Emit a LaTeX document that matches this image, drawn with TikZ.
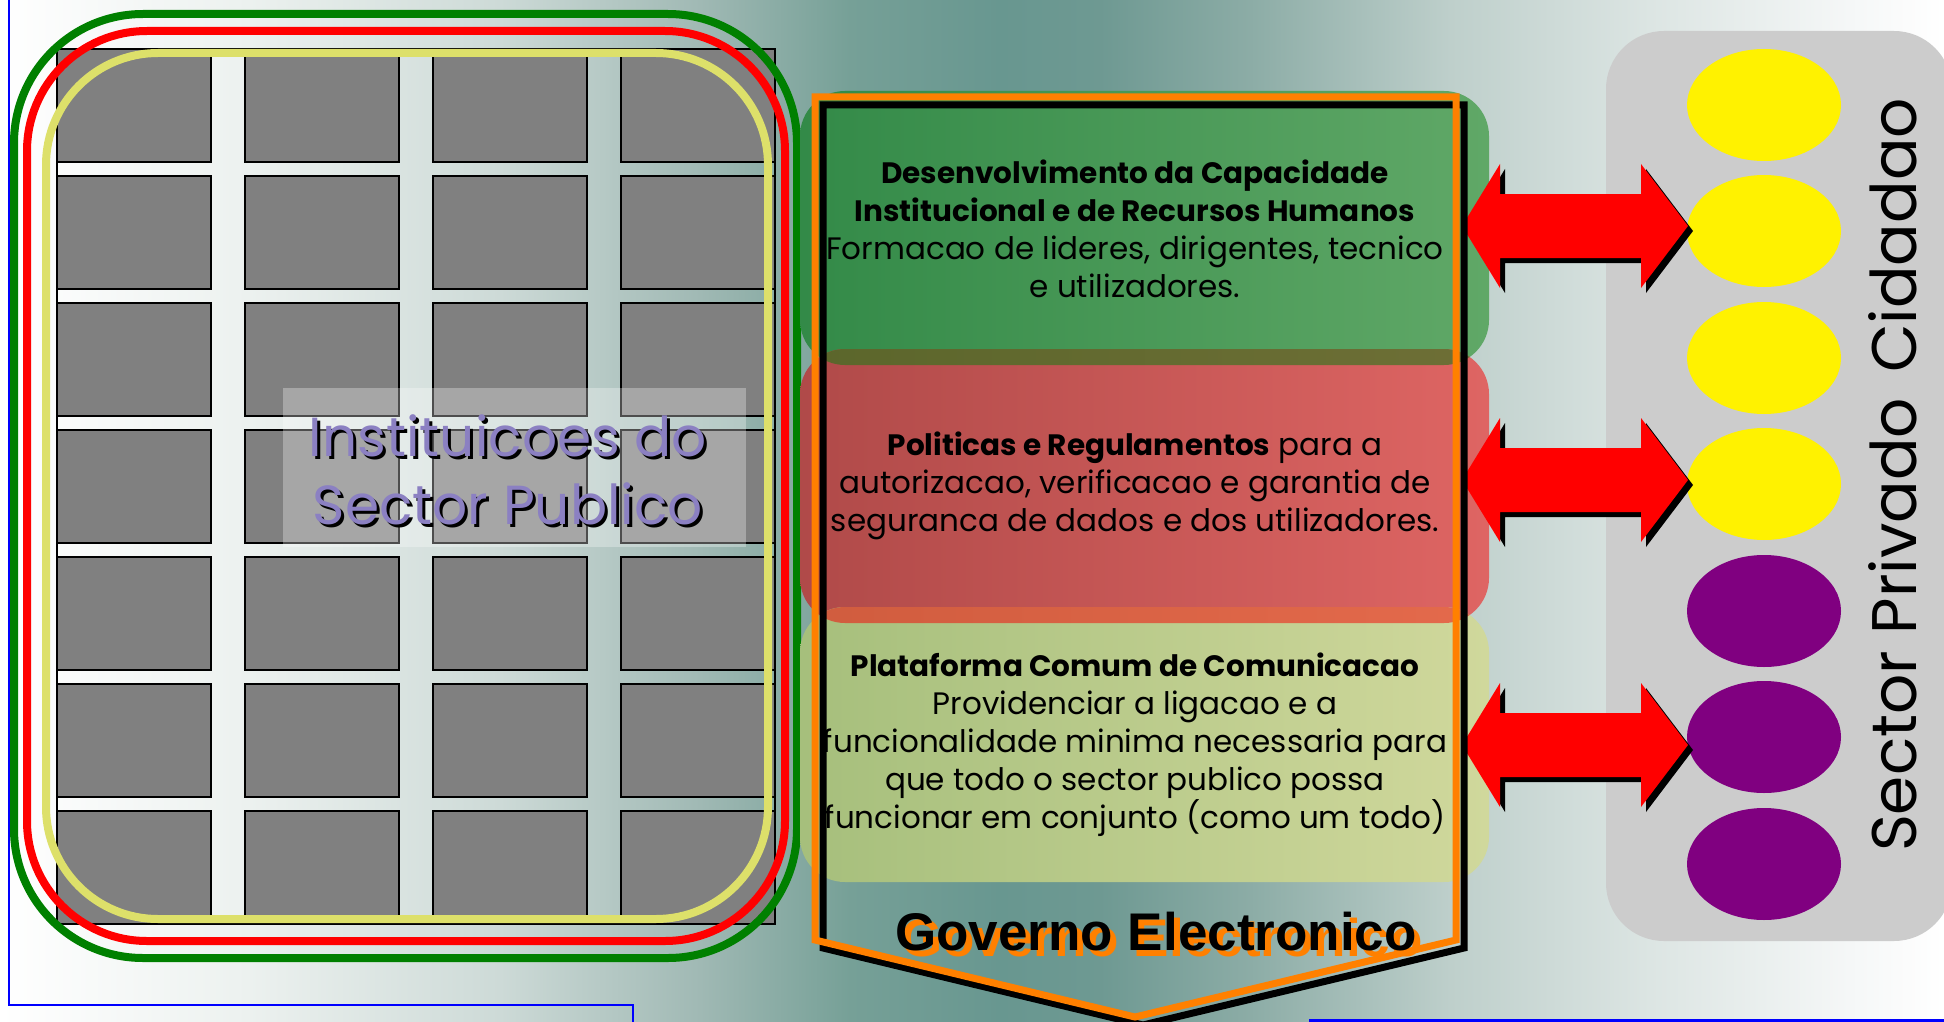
\documentclass[tikz,border=0pt]{standalone}
\usepackage{fontspec}
\setmainfont{Poppins}
\newfontfamily\arialfont{Liberation Sans}
\usetikzlibrary{calc,positioning}

\definecolor{ringgreen}{RGB}{0,128,0}
\definecolor{ringred}{RGB}{255,0,0}
\definecolor{ringyellow}{RGB}{221,224,106}
\definecolor{lavender}{RGB}{139,128,194}
\definecolor{govorange}{RGB}{255,128,0}
\definecolor{ppurple}{RGB}{128,0,128}
\definecolor{panelgray}{RGB}{204,204,204}
\definecolor{greenL}{RGB}{51,138,72}
\definecolor{greenR}{RGB}{96,168,103}
\definecolor{redL}{RGB}{176,74,73}
\definecolor{redR}{RGB}{222,101,99}
\definecolor{khakiL}{RGB}{166,191,124}
\definecolor{khakiR}{RGB}{208,216,156}
\definecolor{oliveL}{RGB}{91,102,43}
\definecolor{oliveR}{RGB}{110,111,54}
\definecolor{rustL}{RGB}{208,92,62}
\definecolor{rustR}{RGB}{228,106,76}

\pgfdeclarehorizontalshading{bgteal}{100bp}{rgb(0bp)=(1,1,1); rgb(25bp)=(1,1,1);
  rgb(31.43bp)=(0.925,0.945,0.937); rgb(37.86bp)=(0.804,0.855,0.843);
  rgb(43bp)=(0.627,0.725,0.706); rgb(46.86bp)=(0.463,0.627,0.592);
  rgb(50.72bp)=(0.408,0.592,0.565); rgb(53.29bp)=(0.431,0.6,0.573);
  rgb(57.15bp)=(0.549,0.675,0.651); rgb(62.3bp)=(0.745,0.812,0.796);
  rgb(67.44bp)=(0.863,0.898,0.89); rgb(72.58bp)=(0.961,0.969,0.969);
  rgb(75bp)=(1,1,1); rgb(100bp)=(1,1,1)}

\newcommand{\hd}[1]{{\bfseries\fontsize{29.5}{38}\selectfont #1}}

\begin{document}
\begin{tikzpicture}[x=1pt,y=-1pt,
    paneltext/.style={align=center,inner sep=0pt,font=\fontsize{31}{38}\selectfont},
    cell/.style={fill=gray,draw=black,line width=1.5pt}]
       \useasboundingbox (0,0) rectangle (1944,1022);
       \clip (0,0) rectangle (1944,1022);

       % background
       \shade[shading=bgteal] (0,0) rectangle (1944,1022);
       \draw[blue,line width=2.5pt] (9,0) -- (9,1005) -- (633,1005) -- (633,1022);
       \draw[blue,line width=3pt] (1309,1020) -- (1944,1020);

       % public sector grid
       \foreach \i in {0,...,3}
         \foreach \j in {0,...,6}
           \draw[cell] ({57+188*\i},{49+127*\j}) rectangle ++(154,113);
       \draw[line width=1.5pt] (57,49) rectangle (775,924);

       \draw[ringgreen,line width=8pt,rounded corners=129pt] (14,14) rectangle (797,958);
       \draw[ringred,line width=8pt,rounded corners=120pt] (27,31) rectangle (785,941);
       \draw[ringyellow,line width=8pt,rounded corners=112pt] (46,53) rectangle (768,919);

       \fill[white,opacity=0.3] (283,388) rectangle (746,547);
       \node[font=\fontsize{55}{68}\selectfont,align=center,text=black] (pubshadow) at (511,473) {Instituicoes do\\Sector Publico};
       \node[font=\fontsize{55}{68}\selectfont,align=center,text=lavender] (pubtext) at (508,470) {Instituicoes do\\Sector Publico};

       % e-government panels
       \shade[left color=greenL,right color=greenR,rounded corners=45pt] (800,91) rectangle (1489,365);
       \shade[left color=redL,right color=redR,rounded corners=45pt] (800,349) rectangle (1489,623);
       \shade[left color=khakiL,right color=khakiR,rounded corners=45pt] (800,607) rectangle (1489,882);
       \begin{scope}
         \clip[rounded corners=45pt] (800,91) rectangle (1489,365);
         \shade[left color=oliveL,right color=oliveR,rounded corners=45pt] (800,349) rectangle (1489,623);
       \end{scope}
       \begin{scope}
         \clip[rounded corners=45pt] (800,349) rectangle (1489,623);
         \shade[left color=rustL,right color=rustR,rounded corners=45pt] (800,607) rectangle (1489,882);
       \end{scope}

       % private sector and citizens
       \fill[panelgray,rounded corners=58pt] (1606,31) rectangle (1952,941);
       \foreach \y/\col in {105/yellow,231/yellow,358/yellow,484/yellow,611/ppurple,737/ppurple,864/ppurple}
         \fill[\col] (1764,\y) ellipse [x radius=77pt,y radius=56pt];
       \node[rotate=90,anchor=base,inner sep=0pt,font=\fontsize{63}{70}\selectfont] (sectors) at (1916,475) {Sector Privado\hspace{25pt}Cidadao};

       % arrows to the citizens
       \foreach \c in {226,480,745} {
         \fill[black,shift={(5,5)}] (1462,\c) -- ++(38,-62) -- ++(0,30) -- ++(141,0) -- ++(0,-30) -- ++(47,62)
           -- ++(-47,62) -- ++(0,-30) -- ++(-141,0) -- ++(0,30) -- cycle;
         \fill[red] (1462,\c) -- ++(38,-62) -- ++(0,30) -- ++(141,0) -- ++(0,-30) -- ++(47,62)
           -- ++(-47,62) -- ++(0,-30) -- ++(-141,0) -- ++(0,30) -- cycle;
       }

       \draw[black,line width=7pt,shift={(8,8)}] (815,97) -- (1456,97) -- (1456,940) -- (1135,1017) -- (815,940) -- cycle;
       \draw[govorange,line width=7pt] (815,97) -- (1456,97) -- (1456,940) -- (1135,1017) -- (815,940) -- cycle;

       \node[paneltext] (capacity) at (1135,229) {\hd{Desenvolvimento da Capacidade}\\
         \hd{Institucional e de Recursos Humanos}\\Formacao de lideres, dirigentes, tecnico\\e utilizadores.};
       \node[paneltext] (policy) at (1135,486) {\hd{Politicas e Regulamentos} para a\\
         autorizacao, verificacao e garantia de\\seguranca de dados e dos utilizadores.};
       \node[paneltext] (platform) at (1135,745) {\hd{Plataforma Comum de Comunicacao}\\
         Providenciar a ligacao e a\\funcionalidade minima necessaria para\\que todo o sector publico possa\\funcionar em conjunto (como um todo)};

       \node[anchor=base,inner sep=0pt,font=\arialfont\bfseries\fontsize{53}{60}\selectfont,text=govorange] (govshadow) at (1162,956) {Governo Electronico};
       \node[anchor=base,inner sep=0pt,font=\arialfont\bfseries\fontsize{53}{60}\selectfont,text=black] (govlabel) at (1156,950) {Governo Electronico};
     \end{tikzpicture}
\end{document}
